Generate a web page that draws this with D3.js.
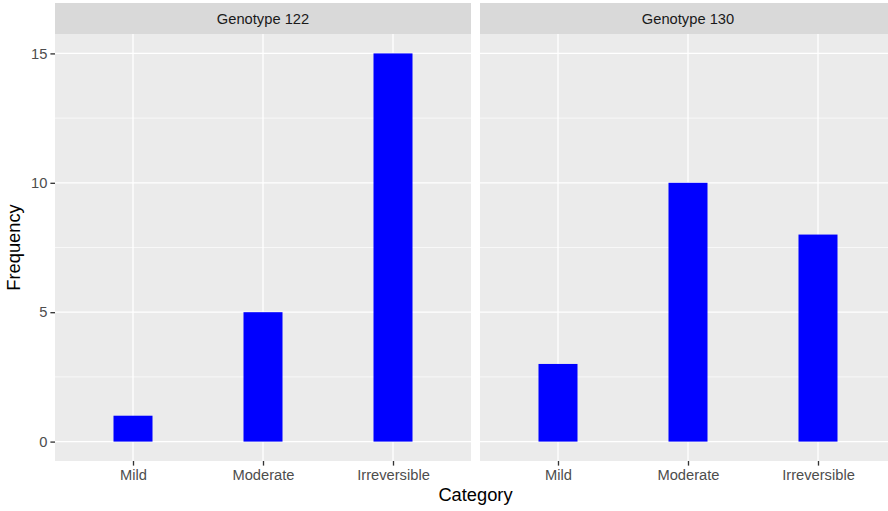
<!DOCTYPE html>
<html><head><meta charset="utf-8">
<script src="https://cdn.jsdelivr.net/npm/d3@7"></script>
<style>body{margin:0;background:#fff}svg{display:block;font-family:"Liberation Sans",Arial,sans-serif}</style>
</head><body><svg id="c" width="888" height="511"></svg>
<script>
const categories = ["Mild", "Moderate", "Irreversible"];
const panels = ["Genotype 122", "Genotype 130"];
const values122 = [1, 5, 15];
const values130 = [3, 10, 8];
const yTicks = [0, 5, 10, 15];
const yMinor = [2.5, 7.5, 12.5];
const seriesValues = [values122, values130];

const svg = d3.select("#c");
const panelW = 416, panelTop = 34, panelBottom = 461, stripTop = 3;
const panelLefts = [55, 480];
const tickFont = 14.7, titleFont = 18.3, tickLen = 4.6;

const y = d3.scaleLinear().domain([-0.75, 15.75]).range([panelBottom, panelTop]);

panels.forEach((name, i) => {
  const left = panelLefts[i];
  const unit = panelW / 3.2;
  const xp = d3.scalePoint().domain(categories).range([left + unit * 0.6, left + unit * 2.6]);
  const g = svg.append("g");
  g.append("rect").attr("x", left).attr("y", panelTop).attr("width", panelW).attr("height", panelBottom - panelTop).attr("fill", "#ebebeb");
  g.selectAll(".ymin").data(yMinor).join("line")
    .attr("x1", left).attr("x2", left + panelW).attr("y1", d => y(d)).attr("y2", d => y(d))
    .attr("stroke", "#fff").attr("stroke-width", 0.67);
  g.selectAll(".ymaj").data(yTicks).join("line")
    .attr("x1", left).attr("x2", left + panelW).attr("y1", d => y(d)).attr("y2", d => y(d))
    .attr("stroke", "#fff").attr("stroke-width", 1.33);
  g.selectAll(".xmaj").data(categories).join("line")
    .attr("x1", d => xp(d)).attr("x2", d => xp(d)).attr("y1", panelTop).attr("y2", panelBottom)
    .attr("stroke", "#fff").attr("stroke-width", 1.33);
  g.selectAll(".bar").data(categories.map((c, j) => ({c, v: seriesValues[i][j]}))).join("rect")
    .attr("x", d => xp(d.c) - unit * 0.15).attr("width", unit * 0.3)
    .attr("y", d => y(d.v)).attr("height", d => y(0) - y(d.v)).attr("fill", "#0000ff");
  // strip
  g.append("rect").attr("x", left).attr("y", stripTop).attr("width", panelW).attr("height", panelTop - stripTop).attr("fill", "#d9d9d9");
  g.append("text").attr("x", left + panelW / 2).attr("y", 24)
    .attr("text-anchor", "middle").attr("font-size", tickFont).attr("fill", "#1a1a1a").text(name);
  // x axis
  const xa = g.append("g").attr("transform", `translate(0,${panelBottom})`)
    .call(d3.axisBottom(xp).tickSize(tickLen).tickPadding(3.5));
  xa.select(".domain").remove();
  xa.selectAll("line").attr("stroke", "#333333").attr("stroke-width", 1.33);
  xa.selectAll("text").attr("font-size", tickFont).attr("fill", "#4d4d4d").attr("font-family", "Liberation Sans, Arial, sans-serif");
});

const ya = svg.append("g").attr("transform", `translate(${panelLefts[0]},0)`)
  .call(d3.axisLeft(y).tickValues(yTicks).tickSize(tickLen).tickPadding(3));
ya.select(".domain").remove();
ya.selectAll("line").attr("stroke", "#333333").attr("stroke-width", 1.33);
ya.selectAll("text").attr("font-size", tickFont).attr("fill", "#4d4d4d").attr("font-family", "Liberation Sans, Arial, sans-serif");

svg.append("text").attr("x", (panelLefts[0] + panelLefts[1] + panelW) / 2).attr("y", 501)
  .attr("text-anchor", "middle").attr("font-size", titleFont).attr("fill", "#000").text("Category");
svg.append("text").attr("transform", `translate(20,${(panelTop + panelBottom) / 2}) rotate(-90)`)
  .attr("text-anchor", "middle").attr("font-size", titleFont).attr("fill", "#000").text("Frequency");
</script></body></html>
